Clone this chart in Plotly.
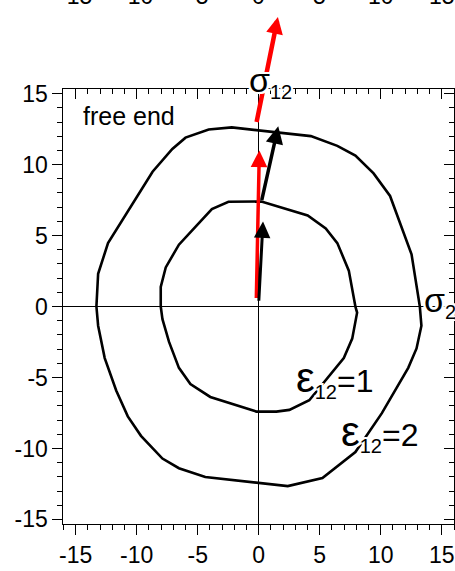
import plotly.graph_objects as go

# ---- data -----------------------------------------------------------------
# yield contour for eps12 = 2 (outer) in the (sigma2, sigma12) plane
outer_x = [13.2, 12.52, 10.76, 9.41, 7.92, 6.44, 4.27, -0.19, -2.21, -4.10, -6.00,
           -7.08, -8.70, -12.35, -13.16, -13.30, -13.16, -12.62, -11.68, -10.73,
           -9.65, -7.89, -6.54, -4.38, -0.19, 2.38, 5.22, 7.92, 10.09, 12.25, 12.93,
           13.33, 13.2]
outer_y = [0.0, 3.68, 7.79, 9.38, 10.64, 11.32, 12.01, 12.40, 12.62, 12.47, 11.90,
           11.10, 9.50, 4.47, 2.31, 0.0, -1.35, -3.63, -5.91, -7.74,
           -9.11, -10.71, -11.39, -12.01, -12.42, -12.65, -12.08, -10.25, -7.51, -4.32, -2.95,
           -1.35, 0.0]

# contour for eps12 = 1 (inner)
inner_x = [7.92, 7.38, 6.44, 5.49, 4.01, 0.22, -2.48, -3.84, -5.19, -6.54, -7.62,
           -8.03, -8.03, -7.89, -7.35, -6.54, -5.60, -3.97, -0.19, 1.44, 2.51, 4.14,
           6.97, 7.66, 8.06, 7.92]
inner_y = [0.0, 2.53, 4.47, 5.50, 6.42, 7.40, 7.38, 6.87, 5.62, 4.36, 2.76,
           1.39, 0.0, -0.89, -2.49, -4.32, -5.46, -6.37, -7.40, -7.40, -7.28, -6.60,
           -3.63, -2.26, -0.43, 0.0]

# loading-path arrows (tail -> tip)
red_arrow_x = [-0.2, 0.05]
red_arrow_y = [0.5, 11.0]
red_ext_x = [-0.2, 1.57]
red_ext_y = [12.9, 20.4]
black_short_x = [0.0, 0.35]
black_short_y = [0.3, 6.0]
black_long_x = [0.22, 1.6]
black_long_y = [7.4, 12.7]

tick_vals = [-15, -10, -5, 0, 5, 10, 15]
tick_text = ["-15", "-10", "-5", "0", "5", "10", "15"]

x_range = [-16, 16]
y_range = [-15.33, 15.33]

# ---- layout geometry ------------------------------------------------------
W, H = 455, 571
x_dom = [60 / W, 454 / W]
y_dom = [1 - 531 / H, 1 - 83.3 / H]


def full_page_range(rng, dom):
    # range of an axis spanning the whole page with the same scale as rng on dom
    span = (rng[1] - rng[0]) / (dom[1] - dom[0])
    return [rng[0] - dom[0] * span, rng[1] + (1 - dom[1]) * span]


FONT = "Liberation Sans, Arial, sans-serif"
halo = ",".join(f"{dx}px {dy}px 0 #fff" for dx in (-2, 0, 2) for dy in (-2, 0, 2)
                if (dx, dy) != (0, 0))

fig = go.Figure()

for cx, cy in ((inner_x, inner_y), (outer_x, outer_y)):
    fig.add_trace(go.Scatter(x=cx, y=cy, mode="lines",
                             line=dict(color="black", width=2.6),
                             showlegend=False, hoverinfo="skip"))

# empty trace so the mirrored frame axes are laid out
fig.add_trace(go.Scatter(x=[], y=[], xaxis="x2", yaxis="y2", showlegend=False))
fig.add_trace(go.Scatter(x=[], y=[], xaxis="x3", yaxis="y3", showlegend=False))

axis_common = dict(showgrid=False, linecolor="black", linewidth=1,
                   tickcolor="black", tickwidth=1,
                   tickfont=dict(family=FONT, size=23, color="black"))

fig.update_layout(
    width=W, height=H, margin=dict(l=0, r=0, t=0, b=0, pad=0),
    paper_bgcolor="white", plot_bgcolor="rgba(0,0,0,0)",
    xaxis=dict(domain=x_dom, range=x_range, anchor="y", showline=True,
               ticks="outside", ticklen=10, tickvals=tick_vals, ticktext=tick_text,
               minor=dict(ticks="outside", ticklen=5, dtick=1, tick0=0,
                          tickcolor="black", tickwidth=1),
               zeroline=True, zerolinecolor="black", zerolinewidth=1,
               **axis_common),
    yaxis=dict(domain=y_dom, range=y_range, anchor="x", showline=True,
               ticks="outside", ticklen=10, tickvals=tick_vals, ticktext=tick_text,
               minor=dict(ticks="outside", ticklen=5, dtick=1, tick0=0,
                          tickcolor="black", tickwidth=1),
               zeroline=True, zerolinecolor="black", zerolinewidth=1,
               **axis_common),
    xaxis2=dict(overlaying="x", side="top", anchor="y2", range=x_range,
                showline=True, ticks="inside", ticklen=10, tickvals=tick_vals,
                showticklabels=False, zeroline=False,
                minor=dict(ticks="inside", ticklen=5, dtick=1, tick0=0,
                           tickcolor="black", tickwidth=1),
                **axis_common),
    yaxis2=dict(overlaying="y", side="right", anchor="x2", range=y_range,
                showline=True, ticks="inside", ticklen=10, tickvals=tick_vals,
                showticklabels=False, zeroline=False,
                minor=dict(ticks="inside", ticklen=5, dtick=1, tick0=0,
                           tickcolor="black", tickwidth=1),
                **axis_common),
    xaxis3=dict(domain=[0, 1], range=full_page_range(x_range, x_dom), anchor="y3",
                visible=False),
    yaxis3=dict(domain=[0, 1], range=full_page_range(y_range, y_dom), anchor="x3",
                visible=False),
)


def arrow(xs, ys, color, width, size, ref=""):
    # arrow from (xs[0], ys[0]) to (xs[1], ys[1]) in data units
    fig.add_annotation(x=xs[1], y=ys[1], ax=xs[0], ay=ys[0],
                       xref="x" + ref, yref="y" + ref,
                       axref="x" + ref, ayref="y" + ref,
                       showarrow=True, arrowhead=2, arrowsize=size,
                       arrowwidth=width, arrowcolor=color, text="")


arrow(red_arrow_x, red_arrow_y, "#ff0000", 3.5, 0.95)
arrow(red_ext_x, red_ext_y, "#ff0000", 4.5, 0.75, "3")
arrow(black_short_x, black_short_y, "black", 3.0, 1.1)
arrow(black_long_x, black_long_y, "black", 3.5, 1.0)

ann_font = dict(family=FONT, size=32, color="black", shadow=halo)
SUB = '<sub><span style="font-size:20px">{}</span></sub>'

fig.add_annotation(x=-14.6, y=13.43, xref="x", yref="y", text="free end",
                   showarrow=False, xanchor="left", yanchor="middle",
                   font=dict(family=FONT, size=25, color="black"))
fig.add_annotation(x=2.9, y=-5.05, xref="x", yref="y",
                   text='<span style="font-size:42px">ε</span>' + SUB.format("12") + "=1",
                   showarrow=False, xanchor="left", yanchor="middle", font=ann_font)
fig.add_annotation(x=6.6, y=-8.85, xref="x", yref="y",
                   text='<span style="font-size:42px">ε</span>' + SUB.format("12") + "=2",
                   showarrow=False, xanchor="left", yanchor="middle", font=ann_font)
fig.add_annotation(x=-1.0, y=15.8, xref="x3", yref="y3",
                   text='<span style="font-size:34px">σ</span>' + SUB.format("12"),
                   showarrow=False, xanchor="left", yanchor="middle", font=ann_font)
fig.add_annotation(x=13.4, y=0.35, xref="x3", yref="y3",
                   text='<span style="font-size:34px">σ</span>' + SUB.format("2"),
                   showarrow=False, xanchor="left", yanchor="middle", font=ann_font)

# tick labels of the panel above, mostly outside the page
for v, t in zip(tick_vals, tick_text):
    fig.add_annotation(x=v, y=1, xref="x", yref="paper", text=t, showarrow=False,
                       xanchor="center", yanchor="bottom", yshift=-3,
                       font=dict(family=FONT, size=23, color="black"))

fig.write_html("out.html")
